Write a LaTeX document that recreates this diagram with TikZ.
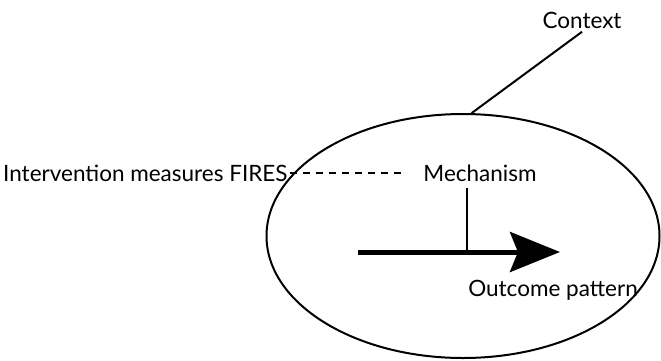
\documentclass[tikz,border=0pt]{standalone}
\usepackage{fontspec}
\setmainfont{Lato}
\usetikzlibrary{positioning, arrows.meta, shapes.geometric}
\newcommand{\bigarrow}{-{Stealth[length=50pt,width=40pt,inset=8pt]}}
\newcommand{\labelsize}{\fontsize{22.5}{26}\selectfont}

\begin{document}
\begin{tikzpicture}[x=1pt, y=-1pt, font=\labelsize]
        \useasboundingbox (0,0) rectangle (661,360);
        \node[draw, ellipse, line width=2pt, minimum width=393pt, minimum height=244pt] (cmo) at (463,236) {};
        \node (context) at (582,20) { Context };
        \node[right, inner sep=0pt] (intervention) at (3,173) { Intervention measures FIRES };
        \node (mechanism) at (480,173) { Mechanism };
        \node (outcome) at (553,290) { Outcome pattern };
        \coordinate (start) at (358,252);
        \coordinate (tip) at (560,252);
        \coordinate (join) at (467,252);
        \draw[line width=2pt] (context.south) -- (cmo.86);
        \draw[line width=1.5pt, dash pattern=on 7pt off 6pt, shorten <=2pt, shorten >=18pt] (intervention.east) -- (intervention.east -| mechanism.west);
        \draw[line width=2pt, shorten <=3pt] (join |- mechanism.south) -- (join);
        \draw[line width=5pt, \bigarrow] (start) -- (tip);
    \end{tikzpicture}
\end{document}
